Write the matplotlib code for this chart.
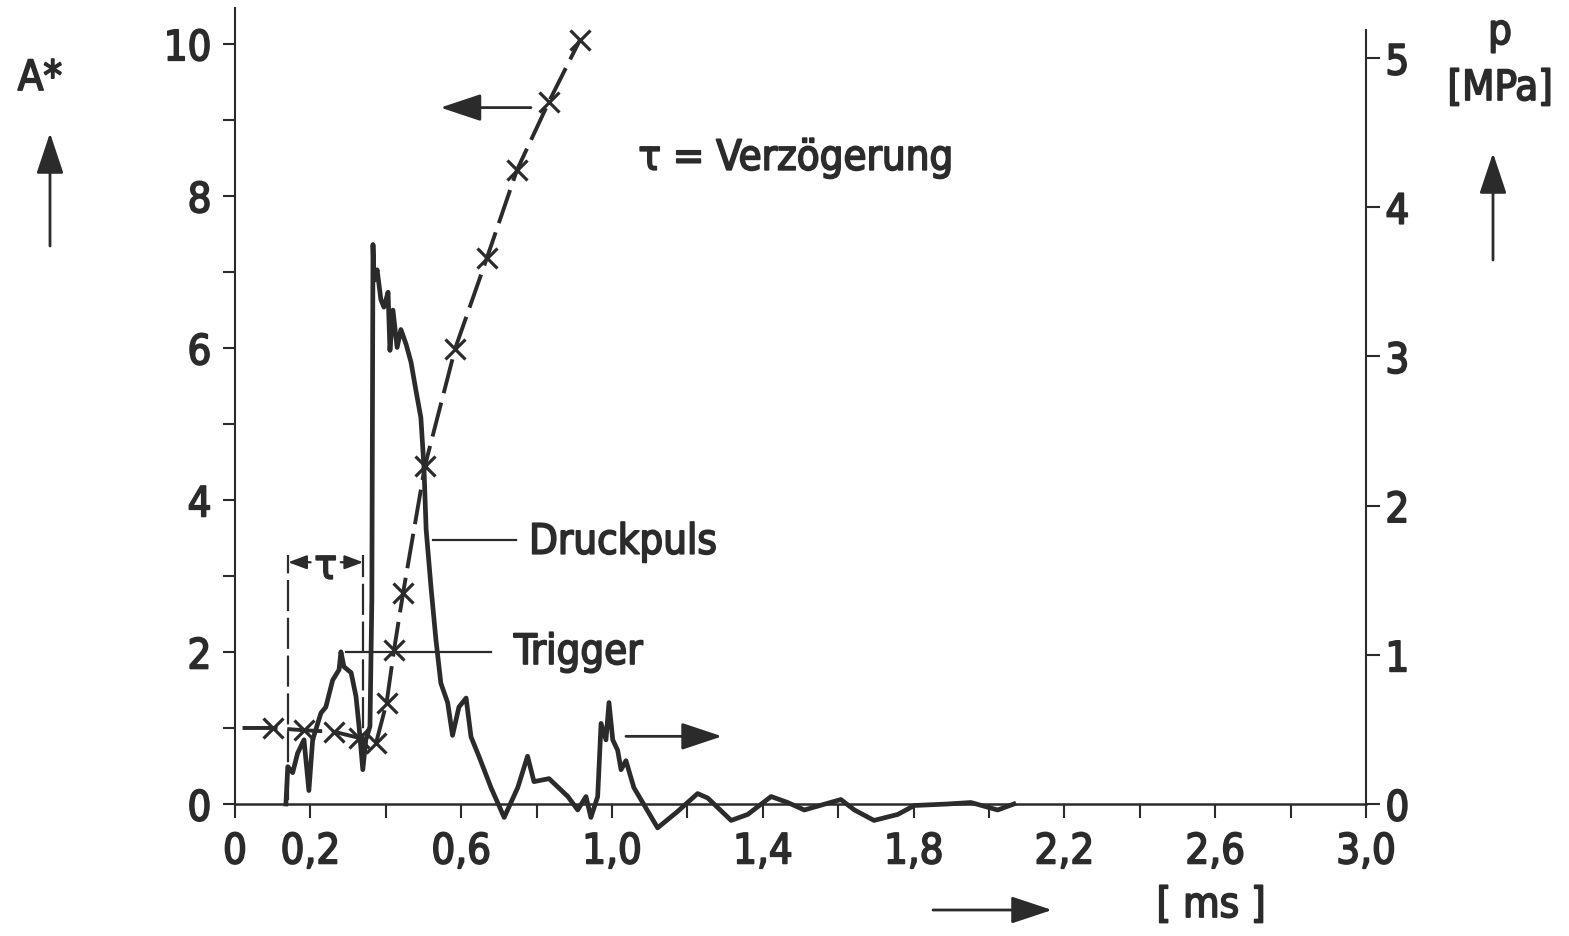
import matplotlib
matplotlib.use("Agg")
import matplotlib.pyplot as plt
import matplotlib.patheffects as pe
from matplotlib import font_manager

# Zeitachse [ms], normierte Amplitude A* (gestrichelte Kurve mit Kreuzen)
a_t = [0.02, 0.100, 0.182, 0.263, 0.329, 0.374, 0.402, 0.422, 0.446,
       0.504, 0.584, 0.668, 0.748, 0.833, 0.915]
a_val = [1.0, 1.0, 0.97, 0.95, 0.87, 0.80, 1.33, 2.03, 2.78,
         4.45, 5.99, 7.18, 8.34, 9.24, 10.05]

# Druckpuls p [MPa]
p_t = [0.135, 0.140, 0.153, 0.166, 0.183, 0.196, 0.206, 0.228, 0.241, 0.259,
       0.276, 0.281, 0.289, 0.308, 0.321, 0.329, 0.339, 0.347, 0.358, 0.363,
       0.366, 0.369, 0.377, 0.387, 0.395, 0.406, 0.411, 0.419, 0.430, 0.440,
       0.454, 0.467, 0.480, 0.493, 0.501, 0.507, 0.520, 0.533, 0.546, 0.564,
       0.577, 0.594, 0.613, 0.626, 0.647, 0.679, 0.714, 0.750, 0.776, 0.793,
       0.833, 0.883, 0.909, 0.931, 0.944, 0.962, 0.971, 0.984, 0.992, 1.002,
       1.015, 1.024, 1.037, 1.058, 1.121, 1.174, 1.227, 1.254, 1.316, 1.360,
       1.422, 1.466, 1.510, 1.607, 1.643, 1.695, 1.758, 1.802, 1.890, 1.952,
       2.023, 2.066]
p_val = [0.0, 0.25, 0.21, 0.34, 0.43, 0.09, 0.43, 0.61, 0.65, 0.83,
         0.90, 1.02, 0.92, 0.88, 0.72, 0.52, 0.23, 0.43, 0.52, 1.37,
         3.75, 3.51, 3.58, 3.38, 3.33, 3.43, 3.04, 3.31, 3.06, 3.18,
         3.08, 2.96, 2.77, 2.59, 2.27, 1.84, 1.45, 1.10, 0.81, 0.68,
         0.46, 0.65, 0.71, 0.45, 0.32, 0.11, -0.09, 0.11, 0.32, 0.15,
         0.17, 0.05, -0.04, 0.05, -0.09, 0.05, 0.54, 0.43, 0.68, 0.43,
         0.36, 0.23, 0.29, 0.11, -0.16, -0.05, 0.07, 0.04, -0.11, -0.07,
         0.05, 0.01, -0.04, 0.03, -0.04, -0.11, -0.07, -0.01, 0.00, 0.01,
         -0.04, 0.00]

x_ticks = [i * 0.2 for i in range(16)]
x_labels = ["0", "0,2", "", "0,6", "", "1,0", "", "1,4", "", "1,8", "",
            "2,2", "", "2,6", "", "3,0"]
a_ticks = list(range(11))
a_labels = ["0", "", "2", "", "4", "", "6", "", "8", "", "10"]
p_ticks = [0, 1, 2, 3, 4, 5]
p_labels = ["0", "1", "2", "3", "4", "5"]

# Verzögerung tau: Trigger und Druckpuls-Beginn
tau_start, tau_end = 0.141, 0.340

W, H = 1569, 936
ink = "#2b2b2b"


def pick_font():
    # schmale Schrift bevorzugen, sonst Roboto
    narrow = []
    for f in font_manager.fontManager.ttflist:
        fn = f.fname.lower()
        if f.style != "normal" or "mono" in fn or "serif" in fn.replace("sans", ""):
            continue
        if "condensed" in fn or "narrow" in fn or f.stretch in ("condensed", "semi-condensed"):
            if f.weight in (400, "normal", "regular", "book", 500, "medium"):
                narrow.append(f)
    if narrow:
        return font_manager.FontProperties(fname=narrow[0].fname), 30
    return font_manager.FontProperties(family=["Roboto", "DejaVu Sans"]), 27


fp, fs = pick_font()
fp.set_size(fs)
# etwas kraeftigere Strichstaerke fuer die Schrift
heavy = [pe.withStroke(linewidth=1.3, foreground=ink)]


def fig_xy(px, py):
    return px / W, 1 - py / H


def label(obj, *args, **kw):
    return obj.text(*args, fontproperties=fp, color=ink, path_effects=heavy, **kw)


fig = plt.figure(figsize=(W / 100, H / 100), dpi=100)
ax = fig.add_axes([235 / W, 1 - 804 / H, (1366 - 235) / W, (804 - 8) / H])
ax2 = ax.twinx()

ax.set_xlim(0, 3.0)
ax.set_ylim(0, 10.47)
ax2.set_ylim(0, 5.335)

for s in ["top", "right"]:
    ax.spines[s].set_visible(False)
for s in ["top", "left", "bottom"]:
    ax2.spines[s].set_visible(False)
ax.spines["left"].set_linewidth(1.5)
ax.spines["bottom"].set_linewidth(1.8)
ax2.spines["right"].set_linewidth(1.5)
ax2.spines["right"].set_bounds(0, 5.19)
for sp in [ax.spines["left"], ax.spines["bottom"], ax2.spines["right"]]:
    sp.set_color(ink)

ax.set_xticks(x_ticks)
ax.set_xticklabels(x_labels)
ax.set_yticks(a_ticks)
ax.set_yticklabels(a_labels)
ax2.set_yticks(p_ticks)
ax2.set_yticklabels(p_labels)
ax.tick_params(axis="x", direction="out", length=10, width=1.5, colors=ink, pad=9)
ax.tick_params(axis="y", direction="out", length=9, width=1.5, colors=ink, pad=8)
ax2.tick_params(axis="y", direction="out", length=10, width=1.5, colors=ink, pad=4)
for lbl in ax.get_xticklabels() + ax.get_yticklabels() + ax2.get_yticklabels():
    lbl.set_fontproperties(fp)
    lbl.set_path_effects(heavy)

# Druckpuls (rechte Achse), darf unter die Nulllinie ausschlagen
ax2.plot(p_t, p_val, color=ink, lw=3.4, solid_joinstyle="round",
         clip_on=False, zorder=3)

# A* Kurve (linke Achse)
ax.plot(a_t, a_val, color=ink, lw=2.8, linestyle=(0, (9, 2.5)),
        marker="x", markersize=15, markeredgewidth=2.3,
        markevery=list(range(1, len(a_t))), zorder=4)

# tau Markierung
for xv, y0 in [(tau_start, 0.05), (tau_end, 0.5)]:
    ax.plot([xv, xv], [y0, 3.28], color=ink, lw=1.6, linestyle=(0, (14, 3)))
tau_mid = (tau_start + tau_end) / 2
arr = dict(arrowstyle="-|>,head_length=0.8,head_width=0.3", color=ink,
           lw=1.6, mutation_scale=14, shrinkA=0, shrinkB=0)
ax.annotate("", xy=(tau_start, 3.18), xytext=(tau_mid - 0.04, 3.18),
            arrowprops=arr)
ax.annotate("", xy=(tau_end, 3.18), xytext=(tau_mid + 0.04, 3.18),
            arrowprops=arr)
label(ax, tau_mid, 3.12, "τ", ha="center", va="center")

# Beschriftungen mit Hinweislinien
ax.plot([0.295, 0.68], [2.0, 2.0], color=ink, lw=1.6)
label(ax, 0.74, 2.0, "Trigger", va="center")
ax.plot([0.525, 0.745], [3.47, 3.47], color=ink, lw=1.6)
label(ax, 0.78, 3.45, "Druckpuls", va="center")
label(ax, 1.07, 8.5, "τ = Verzögerung", va="center")

big = dict(arrowstyle="-|>,head_length=0.9,head_width=0.3", color=ink,
           lw=2.0, mutation_scale=28, shrinkA=0, shrinkB=0)
ax.annotate("", xy=(0.545, 9.16), xytext=(0.785, 9.16), arrowprops=big)
ax.annotate("", xy=(1.292, 0.89), xytext=(1.037, 0.89), arrowprops=big)

# Achsenbeschriftungen ausserhalb des Diagramms
label(fig, *fig_xy(40, 78), "A*", ha="center", va="center")
ax.annotate("", xy=fig_xy(50, 133), xytext=fig_xy(50, 246),
            xycoords="figure fraction", textcoords="figure fraction", arrowprops=big)
label(fig, *fig_xy(1500, 32), "p", ha="center", va="center")
label(fig, *fig_xy(1500, 88), "[MPa]", ha="center", va="center")
ax.annotate("", xy=fig_xy(1493, 153), xytext=fig_xy(1493, 260),
            xycoords="figure fraction", textcoords="figure fraction", arrowprops=big)
label(fig, *fig_xy(1211, 905), "[ ms ]", ha="center", va="center")
ax.annotate("", xy=fig_xy(1052, 910), xytext=fig_xy(933, 910),
            xycoords="figure fraction", textcoords="figure fraction", arrowprops=big)

fig.savefig("out.png", dpi=100)
